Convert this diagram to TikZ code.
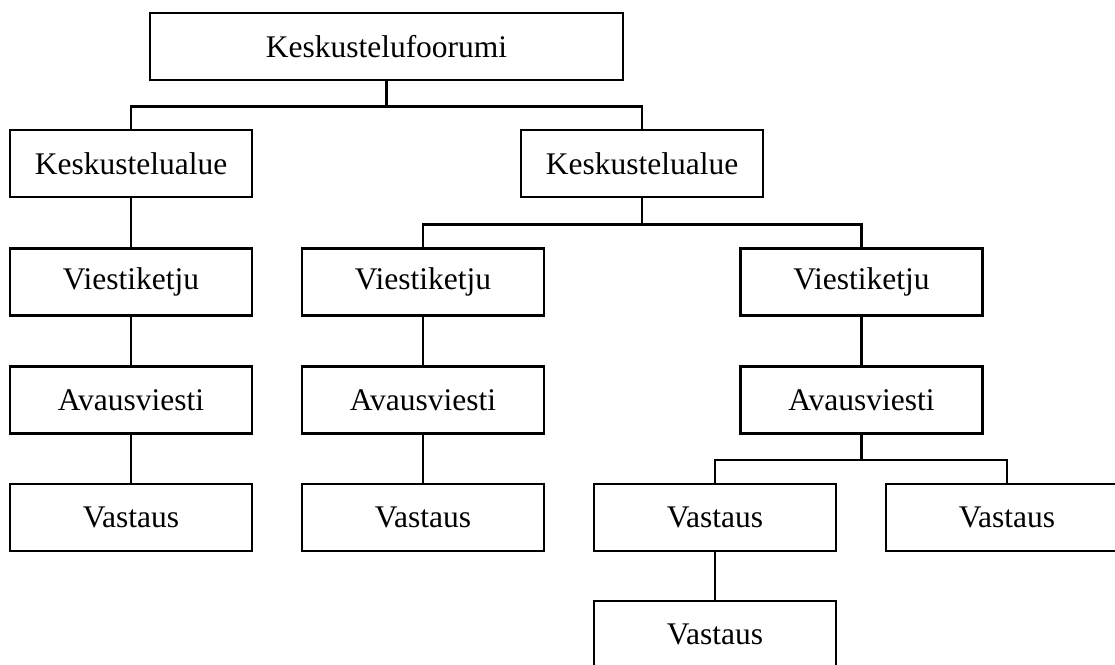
\documentclass[tikz,border=0pt]{standalone}
\usepackage{fontspec}
\setmainfont{Liberation Serif}
\begin{document}
\begin{tikzpicture}[x=1pt,y=-1pt,
  box/.style={draw,line width=2.7pt,rectangle,inner sep=0pt,minimum width=242pt,minimum height=67pt,font=\fontsize{31.5}{38}\selectfont},
  conn/.style={draw,line width=2.7pt}]
\clip (0,0) rectangle (1115,664);
\fill[white] (0,0) rectangle (1115,664);
\node[box,minimum width=473pt] (top) at (386.5,46.5) {Keskustelufoorumi};
\node[box] (k1) at (131,163.5) {Keskustelualue};
\node[box] (k2) at (642,163.5) {Keskustelualue};
\node[box] (v1) at (131,282) {Viestiketju};
\node[box] (v2) at (423,282) {Viestiketju};
\node[box] (v3) at (861.5,282) {Viestiketju};
\node[box] (a1) at (131,400) {Avausviesti};
\node[box] (a2) at (423,400) {Avausviesti};
\node[box] (a3) at (861.5,400) {Avausviesti};
\node[box] (r1) at (131,517.5) {Vastaus};
\node[box] (r2) at (423,517.5) {Vastaus};
\node[box] (r3) at (715,517.5) {Vastaus};
\node[box] (r4) at (1007,517.5) {Vastaus};
\node[box] (r5) at (715,634.5) {Vastaus};
\draw[conn] (top.south) -- ++(0,25) -| (k1.north);
\draw[conn] (top.south) -- ++(0,25) -| (k2.north);
\draw[conn] (k1.south) -- (v1.north);
\draw[conn] (k2.south) -- ++(0,26) -| (v2.north);
\draw[conn] (k2.south) -- ++(0,26) -| (v3.north);
\draw[conn] (v1.south) -- (a1.north);
\draw[conn] (v2.south) -- (a2.north);
\draw[conn] (v3.south) -- (a3.north);
\draw[conn] (a1.south) -- (r1.north);
\draw[conn] (a2.south) -- (r2.north);
\draw[conn] (a3.south) -- ++(0,25) -| (r3.north);
\draw[conn] (a3.south) -- ++(0,25) -| (r4.north);
\draw[conn] (r3.south) -- (r5.north);
\end{tikzpicture}
\end{document}
